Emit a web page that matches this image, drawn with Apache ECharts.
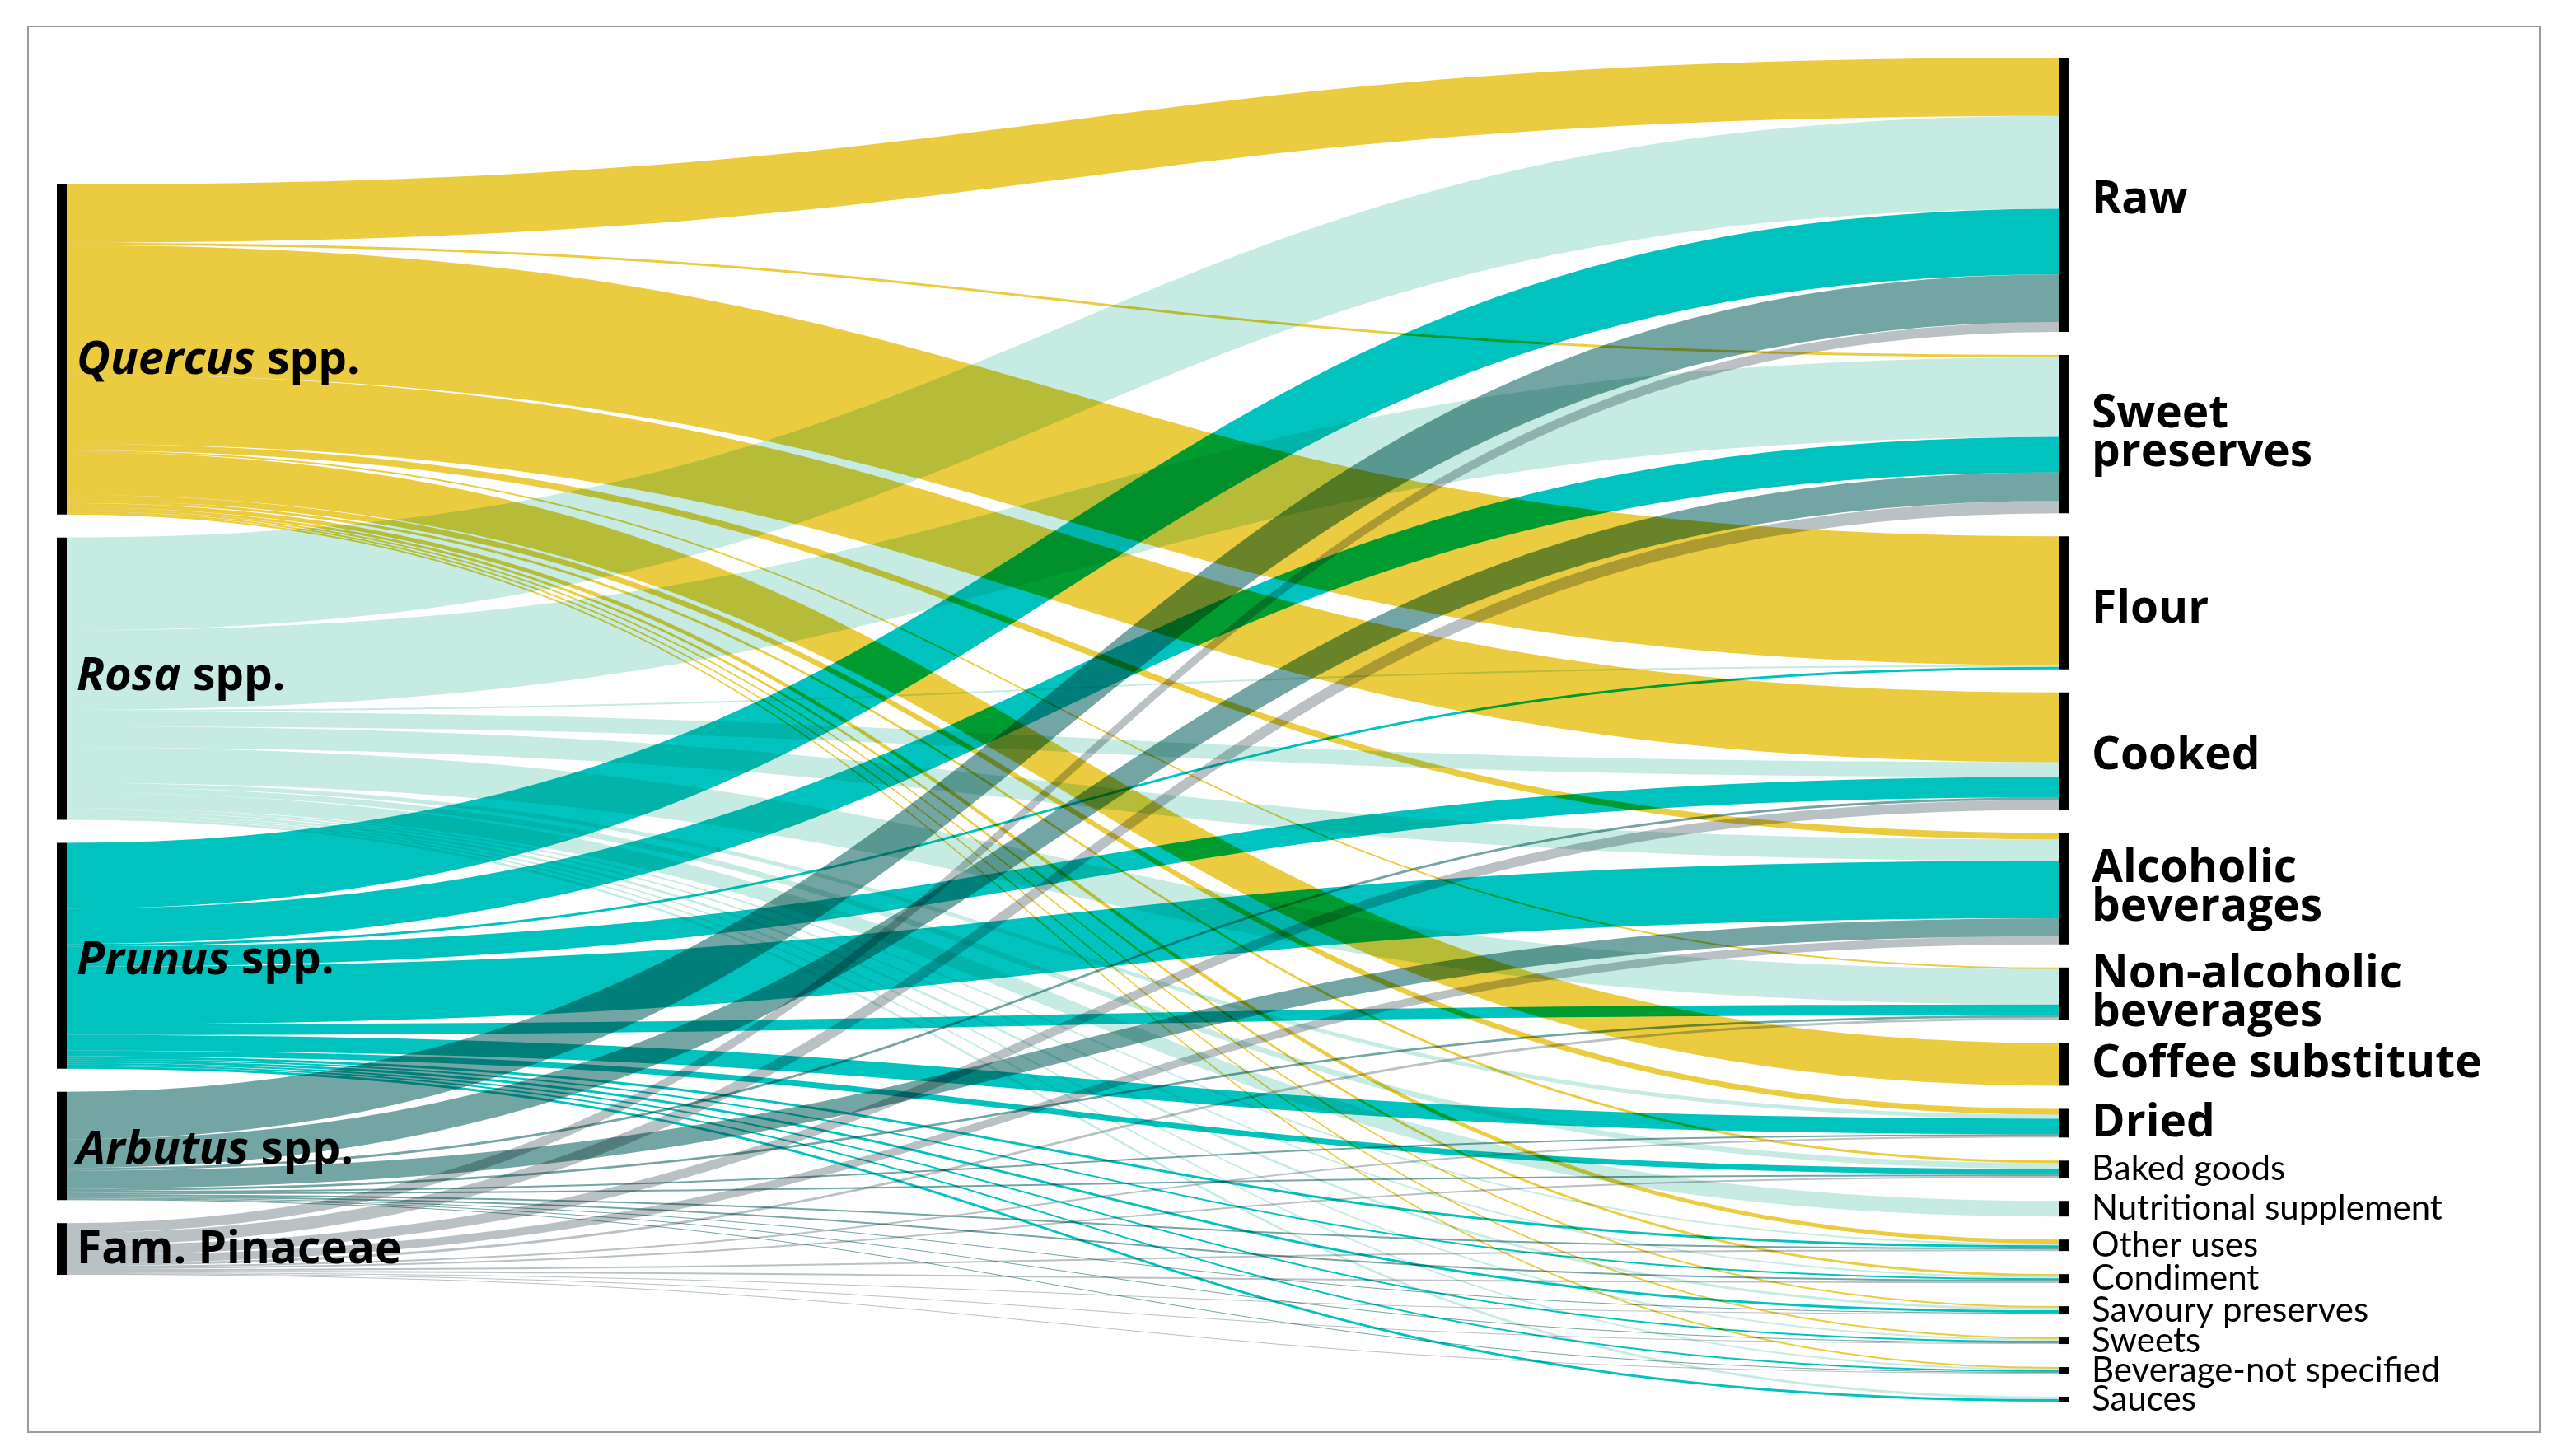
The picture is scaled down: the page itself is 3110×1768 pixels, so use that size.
<!DOCTYPE html>
<html>
<head>
<meta charset="utf-8">
<title>Wild edible fruits - uses</title>
<script src="https://cdn.jsdelivr.net/npm/echarts@6/dist/echarts.min.js"></script>
<style>
  html, body { margin: 0; padding: 0; background: #fff; }
  #chart { width: 3110px; height: 1768px; }
</style>
</head>
<body>
<div id="chart"></div>
<script>
// source taxa (left column)
const sources = ['Quercus spp.', 'Rosa spp.', 'Prunus spp.', 'Arbutus spp.', 'Fam. Pinaceae']
const sourceColors = ['#EBCB3F', '#C6EBE2', '#00C3BF', '#72A5A3', '#B9C1C4']

// uses (right column), top to bottom
const uses = [
  'Raw', 'Sweet preserves', 'Flour', 'Cooked', 'Alcoholic beverages',
  'Non-alcoholic beverages', 'Coffee substitute', 'Dried', 'Baked goods',
  'Nutritional supplement', 'Other uses', 'Condiment', 'Savoury preserves',
  'Sweets', 'Beverage-not specified', 'Sauces',
]
const useLabels = [
  'Raw', 'Sweet\npreserves', 'Flour', 'Cooked', 'Alcoholic\nbeverages',
  'Non-alcoholic\nbeverages', 'Coffee substitute', 'Dried', 'Baked goods',
  'Nutritional supplement', 'Other uses', 'Condiment', 'Savoury preserves',
  'Sweets', 'Beverage-not specified', 'Sauces',
]

// flow values, one row per source, aligned with uses (0 = no flow)
const quercusFlows  = [71, 3, 157, 85, 8, 2, 52, 7, 3, 0, 5, 3, 2, 2, 2, 0]
const rosaFlows     = [113, 97, 2, 18, 26, 43, 0, 5, 7, 19, 2, 2, 3, 2, 2, 3]
const prunusFlows   = [80, 43, 3, 25, 70, 13, 0, 19, 7, 0, 3, 2, 3, 2, 2, 3]
const arbutusFlows  = [58, 35, 0, 3, 22, 3, 0, 2, 2, 0, 2, 2, 1, 1, 1, 0]
const pinaceaeFlows = [12, 15, 0, 12, 10, 3, 0, 2, 2, 0, 2, 2, 1, 1, 1, 0]
const flows = [quercusFlows, rosaFlows, prunusFlows, arbutusFlows, pinaceaeFlows]

const BIG_FONT = "'Open Sans', 'Noto Sans', sans-serif"
const SMALL_FONT = "Lato, 'Open Sans', sans-serif"
const TOP = 70
const BOTTOM = 66
const GAP = 28
const H = 1768 - TOP - BOTTOM
// small vertical nudges of some labels, as placed in the original
const sourceLabelDy = [14, -2, 6, 6, 2]
const useLabelDy = [7, 0, 8, 6]

// left column is centred against the (full height) right column
const sum = a => a.reduce((s, v) => s + v, 0)
const sourceTotals = flows.map(sum)
const total = sum(sourceTotals)
const ky = (H - (uses.length - 1) * GAP) / total
const leftSpan = total * ky + (sources.length - 1) * GAP
let yCursor = (H - leftSpan) / 2

const nodes = []
sources.forEach((name, i) => {
  const genus = name.endsWith(' spp.') ? name.replace(' spp.', '') : null
  nodes.push({
    name,
    localY: yCursor / H,
    label: {
      position: 'right',
      distance: 12,
      offset: [0, sourceLabelDy[i]],
      formatter: genus ? `{i|${genus}} spp.` : name,
    },
  })
  yCursor += sourceTotals[i] * ky + GAP
})
uses.forEach((name, j) => {
  const small = j >= 8
  nodes.push({
    name,
    label: {
      position: 'right',
      distance: 28,
      offset: [0, useLabelDy[j] || 0],
      formatter: useLabels[j],
      fontSize: small ? 42 : 55,
      fontWeight: small ? 'normal' : 'bold',
      fontFamily: small ? SMALL_FONT : BIG_FONT,
      lineHeight: small ? 42 : 47,
    },
  })
})

const links = []
flows.forEach((row, i) => {
  row.forEach((v, j) => {
    if (v > 0) {
      links.push({
        source: sources[i],
        target: uses[j],
        value: v,
        lineStyle: { color: sourceColors[i] },
      })
    }
  })
})

const chart = echarts.init(document.getElementById('chart'), null, { renderer: 'canvas' })
chart.setOption({
  backgroundColor: '#fff',
  animation: false,
  graphic: [{
    type: 'rect',
    shape: { x: 34, y: 32, width: 3049, height: 1707 },
    style: { fill: 'none', stroke: '#9a9a9a', lineWidth: 2 },
    silent: true,
  }],
  series: [{
    type: 'sankey',
    left: 69,
    right: 599,
    top: TOP,
    bottom: BOTTOM,
    nodeWidth: 12,
    nodeGap: GAP,
    layoutIterations: 0,
    draggable: false,
    blendMode: 'multiply',
    emphasis: { disabled: true },
    itemStyle: { color: '#000', borderWidth: 0 },
    lineStyle: { opacity: 1, curveness: 0.5 },
    label: {
      color: '#000',
      fontFamily: BIG_FONT,
      fontSize: 55,
      fontWeight: 'bold',
      rich: {
        i: { fontFamily: BIG_FONT, fontSize: 56, fontWeight: 'bold', fontStyle: 'italic', color: '#000' },
      },
    },
    data: nodes,
    links,
  }],
})
</script>
</body>
</html>
